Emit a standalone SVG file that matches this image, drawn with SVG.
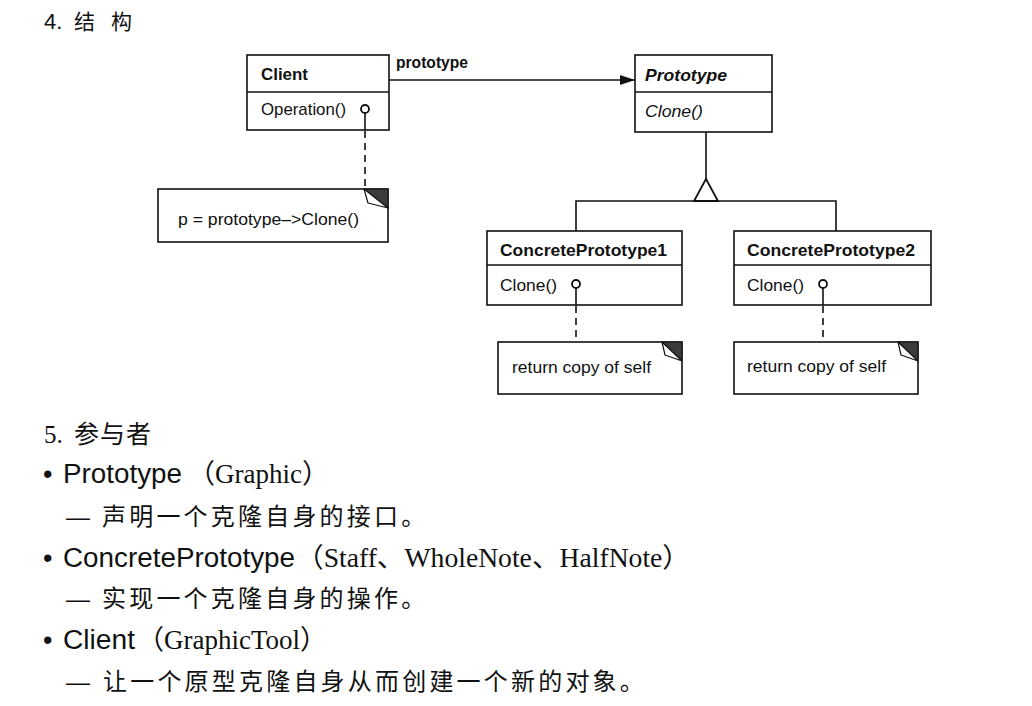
<svg xmlns="http://www.w3.org/2000/svg" width="1032" height="706" viewBox="0 0 1032 706">
<style>
.box{fill:#fff;stroke:#111;stroke-width:1.6}
.ln{fill:none;stroke:#111;stroke-width:1.6}
.dash{fill:none;stroke:#111;stroke-width:1.6;stroke-dasharray:7 5}
.lol{fill:#fff;stroke:#111;stroke-width:1.8}
.ear{fill:#3a3a3a;stroke:#111;stroke-width:1}
.fold{fill:#fff;stroke:#111;stroke-width:1.2;stroke-linejoin:round}
.t{font-family:"Liberation Sans",Arial,sans-serif;font-size:17px;fill:#111}
.b{font-weight:bold}
.i{font-style:italic}
.s{font-family:"Liberation Sans",Arial,sans-serif;font-size:27px;fill:#111}
.r{font-family:"Liberation Serif","Noto Sans CJK SC",serif;font-size:27px;fill:#111}
.c{font-family:"Noto Sans CJK SC",sans-serif;font-size:24px;fill:#111;letter-spacing:3.2px}
.d{font-family:"Liberation Sans",Arial,sans-serif;font-size:24px;fill:#111}
</style>
<defs>
<marker id="arr" viewBox="0 0 15 10" refX="15" refY="5" markerWidth="15" markerHeight="10" markerUnits="userSpaceOnUse" orient="auto">
<path d="M0,0 L15,5 L0,10 Z" fill="#111"/>
</marker>
</defs>

<g id="heading4">
<text x="44" y="29" font-family="Liberation Sans,Arial,sans-serif" font-size="22" fill="#111">4.</text>
<text x="74" y="29" font-family="Noto Sans CJK SC,sans-serif" font-size="21" fill="#111">结</text>
<text x="111" y="29" font-family="Noto Sans CJK SC,sans-serif" font-size="21" fill="#111">构</text>
</g>

<g id="client">
<rect class="box" x="247" y="55" width="142" height="75"/>
<line class="ln" x1="247" y1="92" x2="389" y2="92"/>
<text class="t b" x="261" y="80" textLength="47" lengthAdjust="spacingAndGlyphs">Client</text>
<text class="t" x="261" y="115" textLength="85" lengthAdjust="spacingAndGlyphs">Operation()</text>
</g>

<g id="prototype">
<rect class="box" x="635" y="55" width="137" height="77"/>
<line class="ln" x1="635" y1="92" x2="772" y2="92"/>
<text class="t b i" x="645" y="81" textLength="82" lengthAdjust="spacingAndGlyphs">Prototype</text>
<text class="t i" x="645" y="117" textLength="58" lengthAdjust="spacingAndGlyphs">Clone()</text>
</g>

<g id="concrete1">
<rect class="box" x="487" y="231" width="195" height="74"/>
<line class="ln" x1="487" y1="265" x2="682" y2="265"/>
<text class="t b" x="500" y="256" textLength="167" lengthAdjust="spacingAndGlyphs">ConcretePrototype1</text>
<text class="t" x="500" y="291" textLength="57" lengthAdjust="spacingAndGlyphs">Clone()</text>
</g>

<g id="concrete2">
<rect class="box" x="734" y="231" width="197" height="74"/>
<line class="ln" x1="734" y1="265" x2="931" y2="265"/>
<text class="t b" x="747" y="256" textLength="168" lengthAdjust="spacingAndGlyphs">ConcretePrototype2</text>
<text class="t" x="747" y="291" textLength="57" lengthAdjust="spacingAndGlyphs">Clone()</text>
</g>

<g id="note-client">
<rect class="box" x="158" y="189" width="230" height="53"/>
<polygon class="ear" points="364,189 388,189 388,208"/>
<polygon class="fold" points="364,189 368,203 388,208"/>
<text class="t" x="178" y="225" textLength="181" lengthAdjust="spacingAndGlyphs">p = prototype–&gt;Clone()</text>
</g>

<g id="note-concrete1">
<rect class="box" x="498" y="342" width="184" height="52"/>
<polygon class="ear" points="662,342 682,342 682,361"/>
<polygon class="fold" points="662,342 665,355 682,361"/>
<text class="t" x="512" y="373" textLength="139" lengthAdjust="spacingAndGlyphs">return copy of self</text>
</g>

<g id="note-concrete2">
<rect class="box" x="734" y="342" width="184" height="52"/>
<polygon class="ear" points="898,342 918,342 918,361"/>
<polygon class="fold" points="898,342 901,355 918,361"/>
<text class="t" x="747" y="372" textLength="139" lengthAdjust="spacingAndGlyphs">return copy of self</text>
</g>

<g id="connectors">
<line class="ln" x1="389" y1="80" x2="635" y2="80" marker-end="url(#arr)"/>
<text class="t b" x="396" y="68" textLength="72" lengthAdjust="spacingAndGlyphs">prototype</text>
<line class="ln" x1="706" y1="132" x2="706" y2="179"/>
<polygon class="lol" points="706,179 694,201 718,201"/>
<polyline class="ln" points="576,231 576,201 836,201 836,231"/>
<line class="ln" x1="365" y1="113" x2="365" y2="130"/>
<line class="dash" x1="365" y1="131" x2="365" y2="189"/>
<circle class="lol" cx="365" cy="109" r="4"/>
<line class="ln" x1="576" y1="288" x2="576" y2="305"/>
<line class="dash" x1="576" y1="306" x2="576" y2="342"/>
<circle class="lol" cx="576" cy="284" r="4"/>
<line class="ln" x1="823" y1="288" x2="823" y2="305"/>
<line class="dash" x1="823" y1="306" x2="823" y2="342"/>
<circle class="lol" cx="823" cy="284" r="4"/>
</g>

<g id="participants">
<text x="44" y="443" font-family="Liberation Serif,serif" font-size="25" fill="#111">5.</text>
<text x="74" y="443" font-family="Noto Sans CJK SC,sans-serif" font-size="25" fill="#111" letter-spacing="1">参与者</text>

<text class="s" x="43" y="483">•</text>
<text class="s" x="63" y="483" textLength="119" lengthAdjust="spacingAndGlyphs">Prototype</text>
<text class="r" x="188" y="483">（Graphic）</text>
<text class="d" x="66" y="525">—</text>
<text class="c" x="102" y="525">声明一个克隆自身的接口。</text>

<text class="s" x="43" y="567">•</text>
<text class="s" x="63" y="567" textLength="232" lengthAdjust="spacingAndGlyphs">ConcretePrototype</text>
<text class="r" x="296" y="567" textLength="394" lengthAdjust="spacingAndGlyphs">（Staff、WholeNote、HalfNote）</text>
<text class="d" x="66" y="607">—</text>
<text class="c" x="102" y="607">实现一个克隆自身的操作。</text>

<text class="s" x="43" y="649">•</text>
<text class="s" x="63" y="649" textLength="72" lengthAdjust="spacingAndGlyphs">Client</text>
<text class="r" x="137" y="649">（GraphicTool）</text>
<text class="d" x="66" y="690">—</text>
<text class="c" x="103" y="690">让一个原型克隆自身从而创建一个新的对象。</text>
</g>
</svg>
